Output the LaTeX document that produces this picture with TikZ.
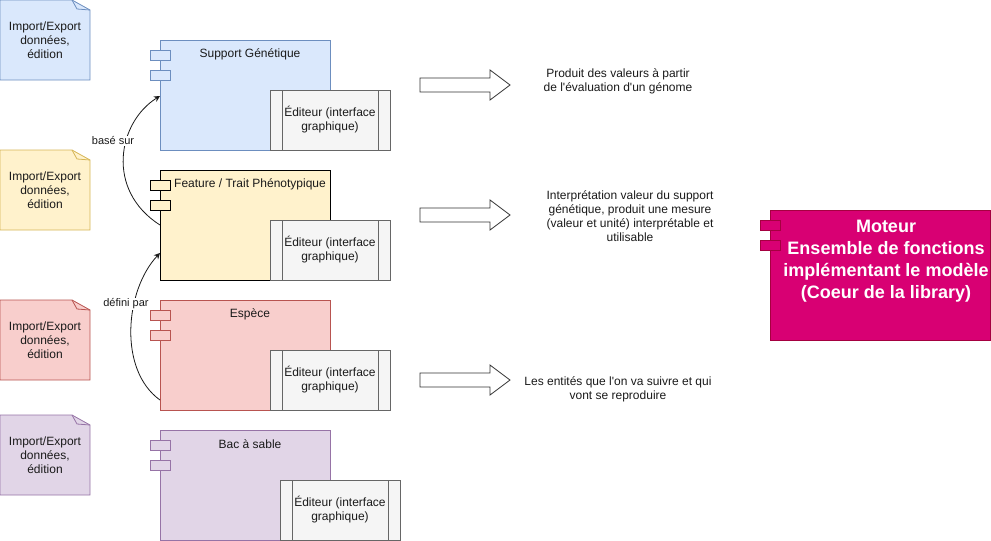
\documentclass[tikz,border=0pt]{standalone}
\usepackage{fontspec}
\setmainfont{Liberation Sans}[Ligatures=TeXOff]
\usetikzlibrary{arrows.meta,positioning}
\definecolor{blueF}{HTML}{DAE8FC}\definecolor{blueS}{HTML}{6C8EBF}
\definecolor{yelF}{HTML}{FFF2CC}\definecolor{yelS}{HTML}{D6B656}
\definecolor{redF}{HTML}{F8CECC}\definecolor{redS}{HTML}{B85450}
\definecolor{purF}{HTML}{E1D5E7}\definecolor{purS}{HTML}{9673A6}
\definecolor{edF}{HTML}{F5F5F5}\definecolor{edS}{HTML}{666666}
\definecolor{magF}{HTML}{D80073}\definecolor{magS}{HTML}{A50040}
\definecolor{txt}{HTML}{1A1A1A}
\begin{document}
\begin{tikzpicture}[x=1pt,y=-1pt,
  lbl/.style={font=\fontsize{12}{14}\selectfont, text=txt, align=center, inner sep=0pt},
  comp/.style={draw, line width=0.8pt},
  tab/.style={draw, line width=0.8pt},
  edbox/.style={draw=edS, fill=edF, line width=0.8pt},
  blockarrow/.style={draw=black!80, fill=white, line width=0.8pt},
  conn/.style={draw=black!90, line width=0.8pt, -{Stealth[length=6pt,width=6pt]}},
  elbl/.style={font=\fontsize{11}{13}\selectfont, text=txt, fill=white, inner sep=1pt}
]
\useasboundingbox (0,0) rectangle (991,541);

% notes
\newcommand{\mynote}[4]{%
  \draw[fill=#2, draw=#3, line width=0.8pt] (0,#1) -- (72,#1) -- (90,#1+10) -- (90,#1+80) -- (0,#1+80) -- cycle;
  \draw[draw=#3, line width=0.8pt] (72,#1) -- (77,#1+9) -- (90,#1+10);
  \node[lbl] (#4) at (45,#1+40) {Import/Export\\données,\\édition};
}
\mynote{0}{blueF}{blueS}{n1}
\mynote{150}{yelF}{yelS}{n2}
\mynote{300}{redF}{redS}{n3}
\mynote{415}{purF}{purS}{n4}

% components
\newcommand{\mycomp}[7]{% y, fill, stroke, name, title, editor x-offset, title x
  \draw[comp, fill=#2, draw=#3] (160,#1) rectangle (330,#1+110);
  \coordinate (#4) at (160,#1);
  \draw[tab, fill=#2, draw=#3] (150,#1+10) rectangle (170,#1+20);
  \draw[tab, fill=#2, draw=#3] (150,#1+30) rectangle (170,#1+40);
  \draw[edbox] (270+#6,#1+50) rectangle (390+#6,#1+110);
  \draw[edbox] (282+#6,#1+50) -- (282+#6,#1+110);
  \draw[edbox] (378+#6,#1+50) -- (378+#6,#1+110);
  \node[lbl] at (330+#6,#1+80) {Éditeur (interface\\graphique)};
  \node[lbl] (#4t) at (#7,#1+14) {#5};
}
\mycomp{40}{blueF}{blueS}{c1}{Support Génétique}{0}{250}
\mycomp{170}{yelF}{black}{c2}{Feature / Trait Phénotypique}{0}{250}
\mycomp{300}{redF}{redS}{c3}{Espèce}{0}{250}
\mycomp{430}{purF}{purS}{c4}{Bac à sable}{10}{250}

% block arrows
\newcommand{\blockarr}[2]{%
  \draw[blockarrow] (420,#1+8) -- (490,#1+8) -- (490,#1) -- (510,#1+15) -- (490,#1+30) -- (490,#1+22) -- (420,#1+22) -- cycle;
  \coordinate (#2) at (510,#1+15);
}
\blockarr{70}{a1}
\blockarr{200}{a2}
\blockarr{365}{a3}

\node[lbl] (t1) at (618,81) {Produit des valeurs à partir\\de l'évaluation d'un génome};
\node[lbl] (t2) at (630,216) {Interprétation valeur du support\\génétique, produit une mesure\\(valeur et unité) interprétable et\\utilisable};
\node[lbl] (t3) at (618,389) {Les entités que l'on va suivre et qui\\vont se reproduire};

% moteur
\draw[fill=magF, draw=magS, line width=0.8pt] (770,210) rectangle (990,340);
\draw[fill=magF, draw=magS, line width=0.8pt] (760,220) rectangle (780,230);
\draw[fill=magF, draw=magS, line width=0.8pt] (760,240) rectangle (780,250);
\node[font=\bfseries\fontsize{18}{22}\selectfont, text=white, align=center, inner sep=0pt] (mot) at (886,261) {Moteur\\Ensemble de fonctions\\ implémentant le modèle\\(Coeur de la library)};

% connectors
\coordinate (s1) at (160,225);
\coordinate (e1) at (160,96);
\coordinate (s2) at (160,400);
\coordinate (e2) at (160,253);
\draw[conn] (s1) .. controls (105,190) and (118,122) .. (e1);
\node[elbl] at (113,141) {basé sur};
\draw[conn] (s2) .. controls (118,370) and (125,290) .. (e2);
\node[elbl] at (126,304) {défini par};
\end{tikzpicture}
\end{document}
